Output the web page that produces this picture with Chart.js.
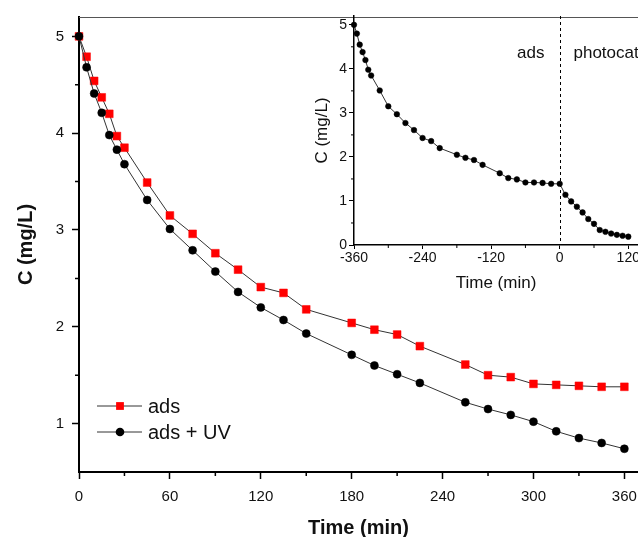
<!DOCTYPE html>
<html>
<head>
<meta charset="utf-8">
<script src="https://cdn.jsdelivr.net/npm/chart.js@4.4.1/dist/chart.umd.min.js"></script>
<style>
  html, body { margin: 0; padding: 0; background: #fff; overflow: hidden; }
  #wrap { position: relative; width: 638px; height: 537px; overflow: hidden; }
  #mainChart { position: absolute; left: 0; top: 0; }
  #insetChart { position: absolute; left: 290px; top: 0; }
</style>
</head>
<body>
<div id="wrap">
  <canvas id="mainChart" width="658" height="537"></canvas>
  <canvas id="insetChart" width="368" height="300"></canvas>
</div>
<script>
// main plot: time (min) and concentration (mg/L)
const times = [0, 5, 10, 15, 20, 25, 30, 45, 60, 75, 90, 105, 120, 135, 150, 180, 195, 210, 225, 255, 270, 285, 300, 315, 330, 345, 360];
const adsValues = [5.0, 4.79, 4.54, 4.37, 4.20, 3.97, 3.85, 3.49, 3.15, 2.96, 2.76, 2.59, 2.41, 2.35, 2.18, 2.04, 1.97, 1.92, 1.80, 1.61, 1.50, 1.48, 1.41, 1.40, 1.39, 1.38, 1.38];
const adsUvValues = [5.0, 4.68, 4.41, 4.21, 3.98, 3.83, 3.68, 3.31, 3.01, 2.79, 2.57, 2.36, 2.20, 2.07, 1.93, 1.71, 1.60, 1.51, 1.42, 1.22, 1.15, 1.09, 1.02, 0.92, 0.85, 0.80, 0.74];
const mainXTicks = [0, 60, 120, 180, 240, 300, 360];
const mainXMinor = [30, 90, 150, 210, 270, 330];
const mainYTicks = [1, 2, 3, 4, 5];
const mainYMinor = [1.5, 2.5, 3.5, 4.5];

// inset: adsorption then photocatalysis
const insetTimes = [-360, -355, -350, -345, -340, -335, -330, -315, -300, -285, -270, -255, -240, -225, -210, -180, -165, -150, -135, -105, -90, -75, -60, -45, -30, -15, 0,
  10, 20, 30, 40, 50, 60, 70, 80, 90, 100, 110, 120];
const insetValues = [5.0, 4.80, 4.55, 4.38, 4.20, 3.98, 3.85, 3.51, 3.15, 2.97, 2.77, 2.61, 2.43, 2.36, 2.20, 2.05, 1.98, 1.93, 1.82, 1.63, 1.52, 1.49, 1.42, 1.42, 1.41, 1.39, 1.39,
  1.14, 0.99, 0.87, 0.74, 0.59, 0.48, 0.34, 0.30, 0.26, 0.23, 0.21, 0.19];
const insetXTicks = [-360, -240, -120, 0, 120];
const insetXMinor = [-300, -180, -60, 60];
const insetYTicks = [0, 1, 2, 3, 4, 5];
const insetYMinor = [0.5, 1.5, 2.5, 3.5, 4.5];
const insetLabels = ['ads', 'photocat'];

const FONT = 'Arial, "Liberation Sans", sans-serif';
const INK = '#111';

const toPoints = (xs, ys) => xs.map((x, i) => ({ x: x, y: ys[i] }));
const setTicks = (values) => (scale) => { scale.ticks = values.map(v => ({ value: v })); };

// minor ticks, Chart.js only draws one tick length
const minorTicks = {
  id: 'minorTicks',
  afterDatasetsDraw(chart, args, opts) {
    const ctx = chart.ctx;
    const xs = chart.scales.x, ys = chart.scales.y;
    ctx.save();
    ctx.strokeStyle = '#000';
    ctx.lineWidth = opts.width;
    ctx.beginPath();
    opts.x.forEach(v => {
      const px = xs.getPixelForValue(v);
      ctx.moveTo(px, xs.top);
      ctx.lineTo(px, xs.top + opts.length);
    });
    opts.y.forEach(v => {
      const py = ys.getPixelForValue(v);
      ctx.moveTo(ys.right, py);
      ctx.lineTo(ys.right - opts.length, py);
    });
    ctx.stroke();
    ctx.restore();
  }
};

const topFrame = {
  id: 'topFrame',
  afterDraw(chart) {
    const { ctx, chartArea } = chart;
    ctx.save();
    ctx.strokeStyle = '#555';
    ctx.lineWidth = 1;
    ctx.beginPath();
    ctx.moveTo(chartArea.left, chartArea.top + 0.5);
    ctx.lineTo(chartArea.right + 30, chartArea.top + 0.5);
    ctx.stroke();
    ctx.restore();
  }
};

const legendBox = {
  id: 'legendBox',
  afterDraw(chart, args, opts) {
    const ctx = chart.ctx;
    ctx.save();
    chart.data.datasets.forEach((ds, i) => {
      const y = opts.y + i * opts.gap;
      ctx.strokeStyle = ds.borderColor;
      ctx.lineWidth = 1;
      ctx.beginPath();
      ctx.moveTo(opts.x, y);
      ctx.lineTo(opts.x + 45, y);
      ctx.stroke();
      const cx = opts.x + 23;
      ctx.fillStyle = ds.pointBackgroundColor;
      if (ds.pointStyle === 'rect') {
        const s = ds.pointRadius * Math.SQRT1_2;
        ctx.fillRect(cx - s, y - s, 2 * s, 2 * s);
      } else {
        ctx.beginPath();
        ctx.arc(cx, y, ds.pointRadius + 0.3, 0, Math.PI * 2);
        ctx.fill();
      }
      ctx.fillStyle = INK;
      ctx.font = '20px ' + FONT;
      ctx.textBaseline = 'middle';
      ctx.fillText(ds.label, opts.x + 51, y + 1);
    });
    ctx.restore();
  }
};

const zeroLine = {
  id: 'zeroLine',
  afterDraw(chart) {
    const { ctx, chartArea } = chart;
    const px = Math.round(chart.scales.x.getPixelForValue(0)) + 0.5;
    ctx.save();
    ctx.strokeStyle = '#000';
    ctx.lineWidth = 1;
    ctx.setLineDash([3, 3]);
    ctx.beginPath();
    ctx.moveTo(px, chartArea.top);
    ctx.lineTo(px, chartArea.bottom);
    ctx.stroke();
    ctx.setLineDash([]);
    ctx.fillStyle = INK;
    ctx.font = '17px ' + FONT;
    ctx.textBaseline = 'middle';
    ctx.textAlign = 'right';
    ctx.fillText(insetLabels[0], px - 16, 53);
    ctx.textAlign = 'left';
    ctx.fillText(insetLabels[1], px + 13, 53);
    ctx.restore();
  }
};

new Chart(document.getElementById('mainChart'), {
  type: 'scatter',
  data: {
    datasets: [
      {
        label: 'ads',
        data: toPoints(times, adsValues),
        showLine: true,
        borderColor: '#333',
        borderWidth: 1,
        pointStyle: 'rect',
        pointRadius: 5.5,
        pointBackgroundColor: '#ff0000',
        pointBorderColor: '#ff0000',
        pointBorderWidth: 0.5,
        clip: false,
        order: 2
      },
      {
        label: 'ads + UV',
        data: toPoints(times, adsUvValues),
        showLine: true,
        borderColor: '#333',
        borderWidth: 1,
        pointStyle: 'circle',
        pointRadius: 4,
        pointBackgroundColor: '#000',
        pointBorderColor: '#000',
        pointBorderWidth: 0.5,
        clip: false,
        order: 1
      }
    ]
  },
  options: {
    responsive: false,
    animation: false,
    devicePixelRatio: 1,
    layout: { padding: { top: 16, right: 20, bottom: 0, left: 0 } },
    plugins: {
      legend: { display: false },
      tooltip: { enabled: false },
      minorTicks: { x: mainXMinor, y: mainYMinor, length: 4, width: 1.5 },
      legendBox: { x: 97, y: 406, gap: 26 }
    },
    scales: {
      x: {
        type: 'linear',
        min: 0,
        max: 369,
        afterBuildTicks: setTicks(mainXTicks),
        afterFit: (s) => { s.height = 65; },
        border: { display: true, color: '#000', width: 2 },
        grid: { display: true, drawOnChartArea: false, tickLength: 7, tickColor: '#000', tickWidth: 1.5 },
        ticks: { color: INK, font: { family: FONT, size: 15 }, padding: 9, maxRotation: 0 },
        title: { display: true, text: 'Time (min)', color: INK, font: { family: FONT, size: 20, weight: 'bold', lineHeight: 1 }, padding: { top: 0, bottom: -1 } }
      },
      y: {
        type: 'linear',
        min: 0.5,
        max: 5.2,
        afterBuildTicks: setTicks(mainYTicks),
        afterFit: (s) => { s.width = 79; },
        border: { display: true, color: '#000', width: 2 },
        grid: { display: true, drawOnChartArea: false, tickLength: 7, tickColor: '#000', tickWidth: 1.5 },
        ticks: { color: INK, font: { family: FONT, size: 15 }, padding: 8 },
        title: { display: true, text: 'C (mg/L)', color: INK, font: { family: FONT, size: 20, weight: 'bold', lineHeight: 1 }, padding: { top: 16, bottom: 0 } }
      }
    }
  },
  plugins: [minorTicks, topFrame, legendBox]
});

new Chart(document.getElementById('insetChart'), {
  type: 'scatter',
  data: {
    datasets: [
      {
        label: 'C',
        data: toPoints(insetTimes, insetValues),
        showLine: true,
        borderColor: '#333',
        borderWidth: 1,
        pointStyle: 'circle',
        pointRadius: 2.8,
        pointBackgroundColor: '#000',
        pointBorderColor: '#000',
        pointBorderWidth: 0.5,
        clip: false
      }
    ]
  },
  options: {
    responsive: false,
    animation: false,
    devicePixelRatio: 1,
    layout: { padding: { top: 16, right: 20, bottom: 0, left: 0 } },
    plugins: {
      legend: { display: false },
      tooltip: { enabled: false },
      minorTicks: { x: insetXMinor, y: insetYMinor, length: 3, width: 1 }
    },
    scales: {
      x: {
        type: 'linear',
        min: -360,
        max: 137,
        afterBuildTicks: setTicks(insetXTicks),
        afterFit: (s) => { s.height = 55; },
        border: { display: true, color: '#000', width: 1.5 },
        grid: { display: true, drawOnChartArea: false, tickLength: 4, tickColor: '#000', tickWidth: 1 },
        ticks: { color: INK, font: { family: FONT, size: 14 }, padding: 1, maxRotation: 0 },
        title: { display: true, text: 'Time (min)', color: INK, font: { family: FONT, size: 17, lineHeight: 1 }, padding: { top: 0, bottom: 8.5 } }
      },
      y: {
        type: 'linear',
        min: 0,
        max: 5.2,
        afterBuildTicks: setTicks(insetYTicks),
        afterFit: (s) => { s.width = 64; },
        border: { display: true, color: '#000', width: 1.5 },
        grid: { display: true, drawOnChartArea: false, tickLength: 5, tickColor: '#000', tickWidth: 1 },
        ticks: { color: INK, font: { family: FONT, size: 14 }, padding: 2 },
        title: { display: true, text: 'C (mg/L)', color: INK, font: { family: FONT, size: 17, lineHeight: 1 }, padding: { top: 23.5, bottom: 0 } }
      }
    }
  },
  plugins: [minorTicks, zeroLine]
});
</script>
</body>
</html>
